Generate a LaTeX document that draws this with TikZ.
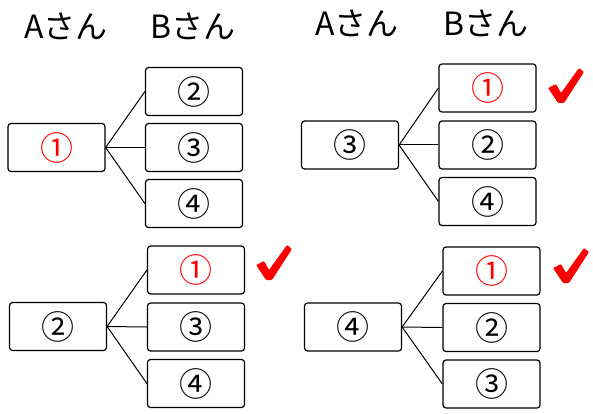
\documentclass[tikz,border=0pt]{standalone}
\usepackage{fontspec}
\setmainfont{Noto Sans CJK JP}
\usetikzlibrary{positioning}

\begin{document}
\begin{tikzpicture}[x=1pt, y=-1pt,
  box/.style={draw, line width=1.2pt, rounded corners=3pt, minimum width=97pt, minimum height=48pt, inner sep=0pt, font=\fontsize{33}{34}\selectfont},
  head/.style={font=\fontsize{32}{34}\selectfont},
  hit/.style={text=red},
  link/.style={line width=1pt},
  tick/.pic={\fill[red, rounded corners=1pt] (-12,-15) -- (-4,-19) -- (1,-10) -- (19,-35) -- (24,-31) -- (4,0) -- (-2,0) -- cycle;}]
\useasboundingbox (0,0) rectangle (593,414);

% Top left: A picks 1
\node[head] (ha1) at (66,26) {Aさん};
\node[head] (hb1) at (193,26) {Bさん};
\node[box, hit] (a1) at (56.5,147.5) {①};
\node[box] (b12) at (194,91.5) {②};
\node[box] (b13) at (194,147.5) {③};
\node[box] (b14) at (194,203.5) {④};

% Top right: A picks 3
\node[head] (ha2) at (357,23) {Aさん};
\node[head] (hb2) at (486,23) {Bさん};
\node[box] (a2) at (350,145) {③};
\node[box, hit] (b21) at (487.5,88) {①};
\node[box] (b22) at (487.5,145) {②};
\node[box] (b24) at (487.5,201.5) {④};
\pic at (560,103) {tick};

% Bottom left: A picks 2
\node[box] (a3) at (58,326.5) {②};
\node[box, hit] (b31) at (196,270) {①};
\node[box] (b33) at (196,327) {③};
\node[box] (b34) at (196,383.5) {④};
\pic at (268,280) {tick};

% Bottom right: A picks 4
\node[box] (a4) at (353,327) {④};
\node[box, hit] (b41) at (491.5,271) {①};
\node[box] (b42) at (491.5,327.5) {②};
\node[box] (b43) at (491.5,384) {③};
\pic at (565,283) {tick};

% Links
\draw[link] (a1.east) -- (b12.west);
\draw[link] (a1.east) -- (b13.west);
\draw[link] (a1.east) -- (b14.west);
\draw[link] (a2.east) -- (b21.west);
\draw[link] (a2.east) -- (b22.west);
\draw[link] (a2.east) -- (b24.west);
\draw[link] (a3.east) -- (b31.west);
\draw[link] (a3.east) -- (b33.west);
\draw[link] (a3.east) -- (b34.west);
\draw[link] (a4.east) -- (b41.west);
\draw[link] (a4.east) -- (b42.west);
\draw[link] (a4.east) -- (b43.west);

\end{tikzpicture}
\end{document}
